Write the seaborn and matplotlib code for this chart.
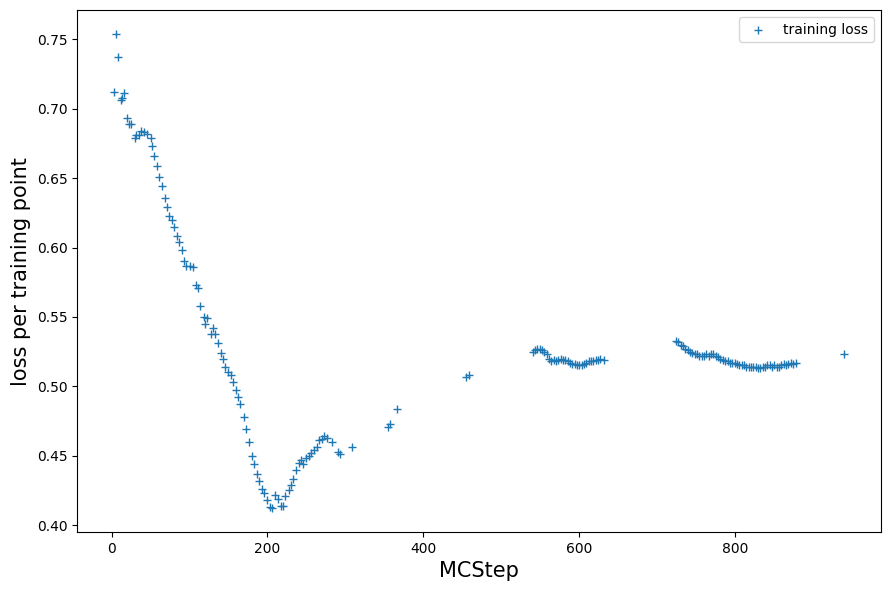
import numpy as np
import pandas as pd
import matplotlib
matplotlib.use('Agg')
import matplotlib.pyplot as plt
import seaborn as sns

# MC steps and training loss
steps_early = [3, 6, 8, 12, 14, 16, 20, 22, 25, 30, 32, 35, 38, 42, 46, 50, 52, 55, 58, 61,
               65, 68, 71, 74, 77, 80, 84, 86, 90, 93, 96, 100, 104, 108, 111, 114, 118, 120, 123, 127,
               130, 133, 137, 140, 143, 146, 150, 153, 156, 159, 162, 165, 170, 173, 176, 180, 183, 186, 189, 193,
               196, 199, 203, 206, 210, 213, 217, 220, 223, 227, 230, 233, 236, 240, 243, 246, 250, 253, 256, 260,
               263, 266, 270, 273, 276, 283, 290, 293, 308, 354, 357, 366, 455, 459]
loss_early = [0.712, 0.754, 0.737, 0.706, 0.708, 0.711, 0.693, 0.689, 0.689, 0.679, 0.681, 0.681, 0.684, 0.683, 0.682, 0.679, 0.673, 0.666, 0.659, 0.651,
              0.644, 0.636, 0.629, 0.623, 0.620, 0.615, 0.608, 0.604, 0.598, 0.590, 0.587, 0.587, 0.586, 0.573, 0.571, 0.558, 0.550, 0.545, 0.549, 0.538,
              0.542, 0.538, 0.531, 0.524, 0.520, 0.514, 0.510, 0.508, 0.503, 0.497, 0.492, 0.487, 0.478, 0.469, 0.460, 0.450, 0.444, 0.437, 0.432, 0.426,
              0.423, 0.418, 0.413, 0.412, 0.422, 0.419, 0.414, 0.414, 0.421, 0.425, 0.429, 0.433, 0.440, 0.445, 0.447, 0.444, 0.448, 0.450, 0.452, 0.454,
              0.456, 0.461, 0.462, 0.464, 0.463, 0.460, 0.453, 0.451, 0.456, 0.471, 0.473, 0.484, 0.507, 0.508]

steps_mid = [540, 543, 546, 549, 552, 555, 558, 561, 564, 567, 570, 573, 576, 579, 582, 585,
             588, 591, 594, 597, 600, 603, 606, 609, 612, 615, 618, 621, 624, 627, 632]
loss_mid = [0.525, 0.526, 0.527, 0.527, 0.526, 0.525, 0.523, 0.520, 0.518, 0.519, 0.518, 0.519, 0.520, 0.519, 0.519, 0.518,
            0.517, 0.516, 0.516, 0.515, 0.515, 0.515, 0.516, 0.517, 0.518, 0.518, 0.518, 0.519, 0.519, 0.520, 0.519]

steps_late = [724, 727, 730, 733, 736, 739, 742, 745, 748, 751, 754, 757, 760, 763, 766, 769, 772, 775,
              778, 781, 784, 787, 790, 793, 796, 799, 802, 805, 808, 811, 814, 817, 820, 823, 826, 829,
              832, 835, 838, 841, 844, 847, 850, 853, 856, 859, 862, 865, 868, 871, 874, 878, 940]
loss_late = [0.533, 0.532, 0.530, 0.529, 0.527, 0.526, 0.525, 0.524, 0.523, 0.523, 0.522, 0.522, 0.522, 0.523, 0.522, 0.523, 0.523, 0.522,
             0.521, 0.520, 0.519, 0.518, 0.518, 0.517, 0.517, 0.517, 0.516, 0.515, 0.515, 0.515, 0.514, 0.514, 0.514, 0.514, 0.514, 0.513,
             0.513, 0.514, 0.514, 0.515, 0.515, 0.514, 0.515, 0.514, 0.514, 0.515, 0.516, 0.515, 0.516, 0.517, 0.516, 0.517, 0.523]

df = pd.DataFrame({
    'MCStep': steps_early + steps_mid + steps_late,
    'loss': loss_early + loss_mid + loss_late,
})

fig, ax = plt.subplots(figsize=(8.89, 5.9), dpi=100)
sns.scatterplot(data=df, x='MCStep', y='loss', marker='+', s=40, linewidth=1,
                color='#1f77b4', label='training loss', ax=ax)
ax.set_xlabel('MCStep', fontsize=15)
ax.set_ylabel('loss per training point', fontsize=15)
ax.legend(loc='upper right')
fig.subplots_adjust(left=0.087, right=0.991, top=0.983, bottom=0.098)
plt.savefig('out.png')
